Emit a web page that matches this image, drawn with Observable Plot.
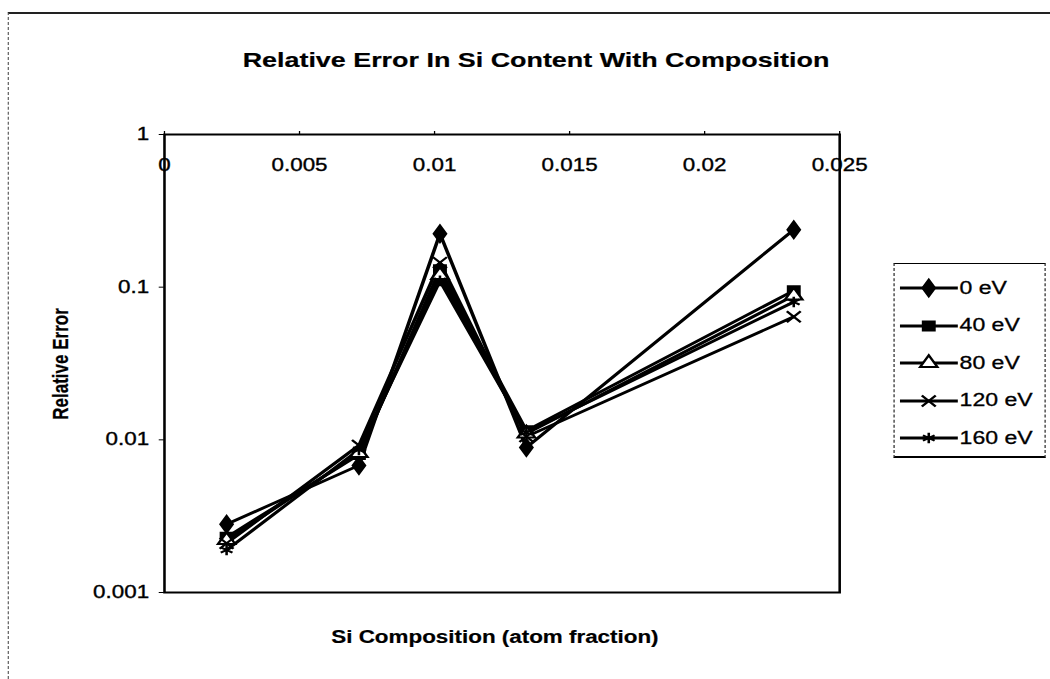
<!DOCTYPE html>
<html>
<head>
<meta charset="utf-8">
<script src="https://cdn.jsdelivr.net/npm/d3@7"></script>
<script src="https://cdn.jsdelivr.net/npm/@observablehq/plot@0.6"></script>
<style>
  html, body { margin: 0; padding: 0; background: #fff; overflow: hidden; }
  /* The scanned reference is stretched horizontally; reproduce that with a uniform scaleX */
  #wrap { position: relative; width: 821px; height: 679px; transform: scaleX(1.28); transform-origin: 0 0; font-family: Arial, "Liberation Sans", sans-serif; color: #000; }
  #outer { position: absolute; left: 5.5px; top: 12px; width: 840px; height: 700px; border-top: 2px solid #222; border-left: 1px dashed #666; }
  #title { position: absolute; left: 0; width: 837.5px; top: 48px; text-align: center; font-weight: bold; font-size: 21px; -webkit-text-stroke: 0.2px #000; }
  #xlabel { position: absolute; left: 186.7px; width: 400px; top: 627px; text-align: center; font-weight: bold; font-size: 17.5px; -webkit-text-stroke: 0.2px #000; }
  #ylabel { position: absolute; left: 48.4px; top: 364px; transform: translate(-50%, -50%) rotate(-90deg); font-weight: bold; font-size: 17px; white-space: nowrap; -webkit-text-stroke: 0.2px #000; }
  #legend { position: absolute; left: 697.7px; top: 263px; width: 117px; height: 192px; border-top: 1px solid #000; border-right: 1px dashed #333; border-left: 1px dashed #333; border-bottom: 2px solid #000; }
  .lrow { position: absolute; left: 4.7px; height: 24px; display: flex; align-items: center; font-size: 18px; -webkit-text-stroke: 0.3px #000; }
  .lrow svg { display: block; }
  #chart { position: absolute; left: 0; top: 0; }
  #chart text { stroke: #000; stroke-width: 0.35px; }
</style>
</head>
<body>
<div id="wrap">
  <div id="outer"></div>
  <div id="chart"></div>
  <div id="title">Relative Error In Si Content With Composition</div>
  <div id="xlabel">Si Composition (atom fraction)</div>
  <div id="ylabel">Relative Error</div>
  <div id="legend"></div>
</div>
<script>
// Data
const xValues = [0.0023, 0.0072, 0.0102, 0.0134, 0.0233];
const series = ["0 eV", "40 eV", "80 eV", "120 eV", "160 eV"];
const err0   = [0.0028, 0.0068, 0.224, 0.0089, 0.238];
const err40  = [0.0023, 0.0080, 0.130, 0.0115, 0.095];
const err80  = [0.0022, 0.0082, 0.120, 0.0110, 0.088];
const err120 = [0.0021, 0.0092, 0.145, 0.0105, 0.064];
const err160 = [0.0019, 0.0086, 0.110, 0.0112, 0.080];
const xTicks = [0, 0.005, 0.01, 0.015, 0.02, 0.025];
const yTicks = [0.001, 0.01, 0.1, 1];
const symbols = ["diamond", "square", "triangle", "times", "asterisk"];
const fills = ["black", "black", "white", "black", "black"];

const allErr = [err0, err40, err80, err120, err160];
const rows = [];
series.forEach((s, i) => {
  xValues.forEach((x, j) => rows.push({series: s, x, y: allErr[i][j], fill: fills[i]}));
});

const chart = Plot.plot({
  width: 820,
  height: 679,
  marginLeft: 128,
  marginRight: 164.5,
  marginTop: 134,
  marginBottom: 87,
  style: {fontFamily: "Arial, 'Liberation Sans', sans-serif", fontSize: "17.5px", color: "#000", background: "transparent", overflow: "visible"},
  x: {domain: [0, 0.025]},
  y: {type: "log", domain: [0.001, 1]},
  symbol: {domain: series, range: symbols},
  marks: [
    Plot.frame({stroke: "black", strokeWidth: 2}),
    Plot.axisY({ticks: yTicks, tickFormat: d => String(d), tickSize: 4, tickPadding: 8, label: null, fontSize: 17.5}),
    Plot.axisX({anchor: "top", ticks: xTicks, tickFormat: () => "", tickSize: 4, label: null}),
    Plot.text(xTicks, {x: d => d, frameAnchor: "top", dy: 24, text: d => String(d), fontSize: 17.5}),
    Plot.line(rows, {x: "x", y: "y", z: "series", stroke: "black", strokeWidth: 2.8}),
    Plot.dot(rows, {x: "x", y: "y", symbol: "series", fill: "fill", stroke: "black", strokeWidth: 2, r: 5})
  ]
});
document.getElementById("chart").appendChild(chart);

// Legend
const legend = document.getElementById("legend");
const d3Sym = {diamond: d3.symbolDiamond, square: d3.symbolSquare, triangle: d3.symbolTriangle, times: d3.symbolTimes, asterisk: d3.symbolAsterisk};
series.forEach((s, i) => {
  const row = document.createElement("div");
  row.className = "lrow";
  row.style.top = (12 + i * 37.5) + "px";
  const svg = d3.create("svg").attr("width", 45.3).attr("height", 24);
  svg.append("line").attr("x1", 0).attr("x2", 45.3).attr("y1", 12).attr("y2", 12).attr("stroke", "black").attr("stroke-width", 2.8);
  svg.append("path").attr("transform", "translate(22.6,12)")
    .attr("d", d3.symbol(d3Sym[symbols[i]], Math.PI * 5 * 5)())
    .attr("fill", fills[i]).attr("stroke", "black").attr("stroke-width", 2);
  row.appendChild(svg.node());
  const t = document.createElement("span");
  t.textContent = s;
  t.style.marginLeft = "1px";
  row.appendChild(t);
  legend.appendChild(row);
});
</script>
</body>
</html>
